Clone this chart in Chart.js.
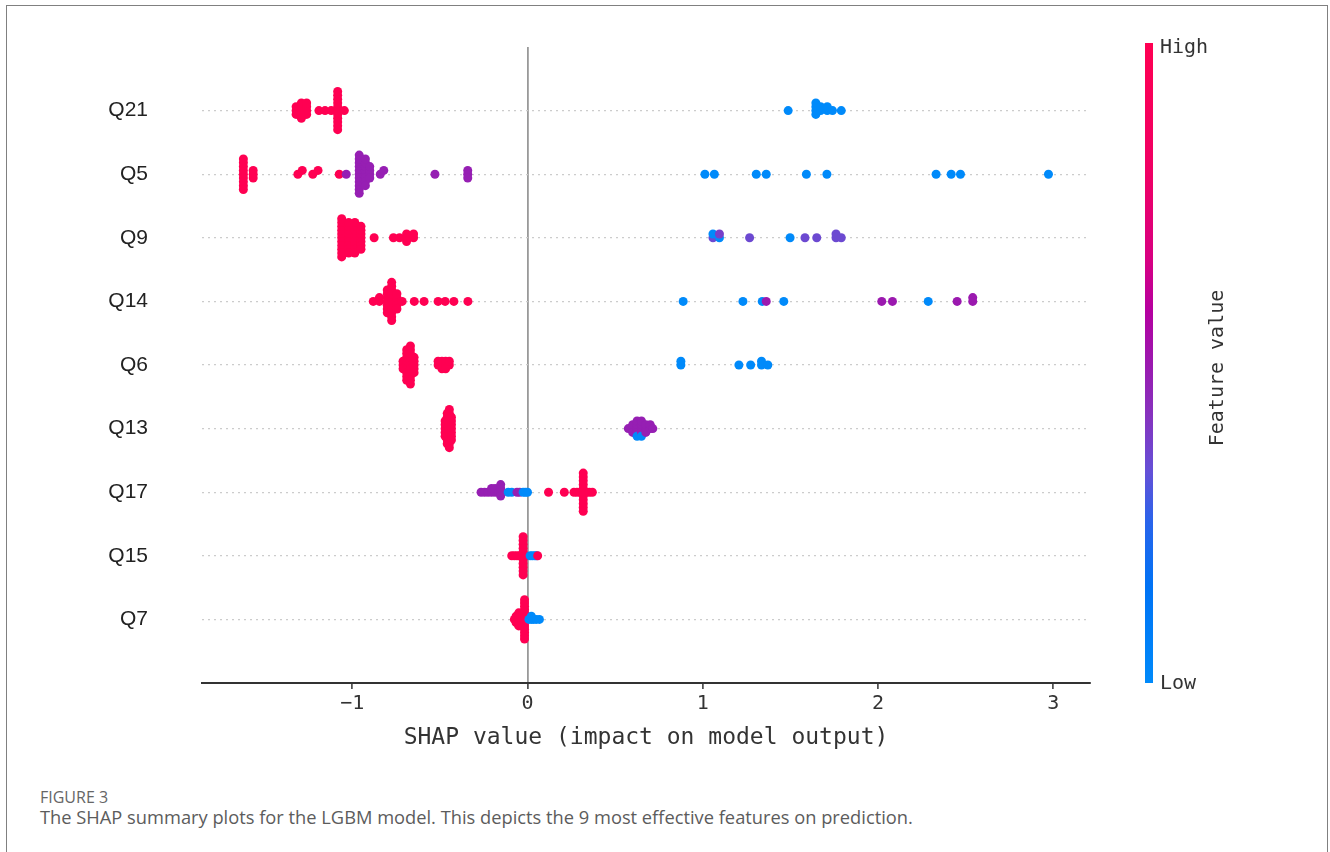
<!DOCTYPE html>
<html>
<head>
<meta charset="utf-8">
<script src="https://cdn.jsdelivr.net/npm/chart.js@4.4.1/dist/chart.umd.min.js"></script>
<style>
  html, body { margin: 0; padding: 0; background: #fff; width: 1330px; height: 852px; overflow: hidden; }
  #frame { position: absolute; left: 6px; top: 5px; width: 1322px; height: 900px; border: 1.5px solid #808080; box-sizing: border-box; }
  #wrap { position: absolute; left: 0; top: 0; width: 1330px; height: 770px; }
  #fig { position: absolute; left: 40px; top: 786px; font: 16px 'Open Sans', sans-serif; color: #666; white-space: nowrap; }
  #cap { position: absolute; left: 40px; top: 804px; font: 18.3px 'Open Sans', sans-serif; color: #5c5c5c; white-space: nowrap; }
</style>
</head>
<body>
<div id="frame"></div>
<div id="wrap"><canvas id="c" width="1330" height="770"></canvas></div>
<div id="fig">FIGURE 3</div>
<div id="cap">The SHAP summary plots for the LGBM model. This depicts the 9 most effective features on prediction.</div>
<script>
// ---------------- data ----------------
const features = ['Q21', 'Q5', 'Q9', 'Q14', 'Q6', 'Q13', 'Q17', 'Q15', 'Q7'];
const xTicks = [-1, 0, 1, 2, 3];
const xTitle = 'SHAP value (impact on model output)';
const colorbarLabels = ['High', 'Low', 'Feature value'];

// each entry: [SHAP value, normalised feature value (0 = low, 1 = high), number of samples]
const q21 = [
  [-1.32, 1, 3], [-1.29, 1, 5], [-1.26, 1, 4],
  [-1.19, 1, 1], [-1.155, 1, 1], [-1.12, 1, 1],
  [-1.083, 1, 11], [-1.045, 1, 1],
  [1.487, 0, 1], [1.645, 0, 4], [1.672, 0, 2], [1.71, 0, 2], [1.74, 0, 1], [1.79, 0, 1]
];
const q5 = [
  [-1.621, 1, 9], [-1.565, 1, 3],
  [-1.31, 1, 1], [-1.285, 1, 1], [-1.225, 1, 1], [-1.195, 1, 1],
  [-1.074, 1, 1], [-1.034, 0.48, 1],
  [-0.96, 0.48, 11], [-0.925, 0.48, 8], [-0.90, 0.48, 4],
  [-0.84, 0.48, 1], [-0.82, 0.48, 1], [-0.528, 0.48, 1], [-0.341, 0.48, 3],
  [1.012, 0, 1], [1.066, 0, 1], [1.305, 0, 1], [1.362, 0, 1], [1.591, 0, 1],
  [1.708, 0, 1], [2.331, 0, 1], [2.417, 0, 1], [2.470, 0, 1], [2.972, 0, 1]
];
const q9 = [
  [-1.06, 1, 11], [-1.02, 1, 9], [-0.985, 1, 9], [-0.95, 1, 7],
  [-0.875, 1, 1], [-0.765, 1, 1], [-0.73, 1, 1], [-0.69, 1, 3], [-0.65, 1, 2],
  [1.058, 0.35, 1], [1.058, 0, 1], [1.095, 0, 1], [1.095, 0.38, 1],
  [1.267, 0.35, 1], [1.498, 0, 1], [1.583, 0.35, 1], [1.65, 0.35, 1],
  [1.76, 0.35, 2], [1.79, 0.35, 1]
];
const q14 = [
  [-0.88, 1, 1], [-0.845, 1, 2], [-0.80, 1, 7], [-0.775, 1, 11], [-0.745, 1, 5], [-0.715, 1, 1],
  [-0.646, 1, 1], [-0.59, 1, 1], [-0.51, 1, 1], [-0.47, 1, 1], [-0.42, 1, 1], [-0.34, 1, 1],
  [0.888, 0, 1], [1.229, 0, 1], [1.339, 0, 1], [1.362, 0.5, 1], [1.462, 0, 1],
  [2.021, 0.5, 1], [2.082, 0.5, 1], [2.286, 0, 1], [2.451, 0.5, 1], [2.54, 0.5, 2]
];
const q6 = [
  [-0.71, 1, 3], [-0.689, 1, 9], [-0.668, 1, 11], [-0.647, 1, 5],
  [-0.51, 1, 2], [-0.488, 1, 3], [-0.467, 1, 3], [-0.446, 1, 2],
  [0.875, 0, 2], [1.206, 0, 1], [1.273, 0, 1], [1.335, 0, 2], [1.371, 0, 1]
];
const q13 = [
  [-0.47, 1, 5], [-0.458, 1, 9], [-0.446, 1, 11], [-0.434, 1, 7],
  [0.575, 0.48, 1], [0.60, 0.48, 3], [0.625, 0.48, 4], [0.625, 0, 1],
  [0.65, 0.48, 4], [0.65, 0, 1], [0.675, 0.48, 3], [0.70, 0.48, 2], [0.715, 0.48, 1]
];
const q17 = [
  [-0.265, 0.48, 1], [-0.245, 0.48, 1], [-0.225, 0.48, 1], [-0.205, 0.48, 2],
  [-0.185, 0.48, 2], [-0.165, 0.48, 1], [-0.153, 0.48, 4],
  [-0.11, 0, 1], [-0.09, 0, 1], [-0.06, 0.48, 1], [-0.045, 0.48, 1],
  [-0.025, 0, 1], [-0.012, 0, 1], [0.0, 0, 1],
  [0.12, 1, 1], [0.21, 1, 1], [0.265, 1, 1], [0.282, 1, 1], [0.30, 1, 1],
  [0.318, 1, 11], [0.336, 1, 1], [0.353, 1, 1], [0.37, 1, 1]
];
const q15 = [
  [-0.09, 1, 1], [-0.075, 1, 1], [-0.06, 1, 1], [-0.045, 1, 1],
  [-0.025, 1, 11], [-0.012, 1, 1],
  [0.015, 0, 1], [0.028, 0, 1], [0.042, 0, 1], [0.052, 0, 1], [0.058, 1, 1]
];
const q7 = [
  [-0.075, 1, 1], [-0.065, 1, 3], [-0.05, 1, 5], [-0.017, 1, 13],
  [0.008, 0, 1], [0.022, 0, 2], [0.035, 0, 1], [0.05, 0, 1], [0.068, 0, 1]
];
const rows = [q21, q5, q9, q14, q6, q13, q17, q15, q7];

// ---------------- colour map (SHAP red_blue) ----------------
const CMAP = [
  [0.00, [0, 138, 250]], [0.15, [0, 115, 245]], [0.25, [40, 100, 235]],
  [0.33, [100, 80, 215]], [0.42, [135, 50, 190]], [0.50, [155, 25, 175]],
  [0.58, [180, 0, 160]], [0.66, [215, 0, 130]], [0.80, [240, 0, 100]], [1.00, [255, 0, 82]]
];
function cmap(t) {
  for (let i = 1; i < CMAP.length; i++) {
    if (t <= CMAP[i][0]) {
      const [t0, c0] = CMAP[i - 1], [t1, c1] = CMAP[i];
      const f = (t - t0) / (t1 - t0);
      const c = c0.map((v, k) => Math.round(v + (c1[k] - v) * f));
      return `rgb(${c[0]},${c[1]},${c[2]})`;
    }
  }
  const c = CMAP[CMAP.length - 1][1];
  return `rgb(${c[0]},${c[1]},${c[2]})`;
}

// ---------------- beeswarm layout (same rule as shap) ----------------
function expand(groups) {
  const pts = [];
  groups.forEach(([s, f, n]) => { for (let i = 0; i < n; i++) pts.push({ s, f }); });
  return pts;
}
function swarm(shaps) {
  const nbins = 100, rowHeight = 0.4;
  const mn = Math.min(...shaps), mx = Math.max(...shaps);
  const quant = shaps.map(v => Math.round(nbins * (v - mn) / (mx - mn + 1e-8)));
  const inds = shaps.map((_, i) => i).sort((a, b) => (quant[a] - quant[b]) || (a - b));
  const ys = new Array(shaps.length).fill(0);
  let layer = 0, last = -1;
  for (const ind of inds) {
    if (quant[ind] !== last) layer = 0;
    ys[ind] = Math.ceil(layer / 2) * ((layer % 2) * 2 - 1);
    layer++;
    last = quant[ind];
  }
  const m = Math.max(...ys.map(y => y + 1));
  return ys.map(y => y * 0.9 * (rowHeight / m));
}

const datasets = rows.map((groups, i) => {
  const pts = expand(groups);
  const offs = swarm(pts.map(p => p.s));
  const pos = features.length - 1 - i;
  return {
    label: features[i],
    data: pts.map((p, k) => ({ x: p.s, y: pos + offs[k] })),
    pointBackgroundColor: pts.map(p => cmap(p.f)),
    pointRadius: 4.5,
    pointHoverRadius: 4.5,
    pointBorderWidth: 0
  };
});

// ---------------- colour bar ----------------
const colorbarPlugin = {
  id: 'colorbar',
  afterDraw(chart) {
    const { ctx, chartArea: a } = chart;
    const x = a.right + 55, w = 8, top = a.top - 4, bot = a.bottom;
    const g = ctx.createLinearGradient(0, bot, 0, top);
    CMAP.forEach(([t, c]) => g.addColorStop(t, `rgb(${c[0]},${c[1]},${c[2]})`));
    ctx.save();
    ctx.fillStyle = g;
    ctx.fillRect(x, top, w, bot - top);
    ctx.fillStyle = '#333';
    ctx.font = '20px "DejaVu Sans Mono"';
    ctx.textBaseline = 'middle';
    ctx.textAlign = 'left';
    ctx.fillText(colorbarLabels[0], x + 15, top + 5);
    ctx.fillText(colorbarLabels[1], x + 15, bot + 1);
    ctx.translate(x + 73, (top + bot) / 2 + 5);
    ctx.rotate(-Math.PI / 2);
    ctx.textAlign = 'center';
    ctx.fillText(colorbarLabels[2], 0, 0);
    ctx.restore();
  }
};

new Chart(document.getElementById('c'), {
  type: 'scatter',
  data: { datasets },
  plugins: [colorbarPlugin],
  options: {
    responsive: false,
    animation: false,
    events: [],
    layout: { padding: { left: 0, right: 240, top: 47, bottom: 7 } },
    plugins: { legend: { display: false }, tooltip: { enabled: false } },
    scales: {
      x: {
        type: 'linear',
        min: -1.857,
        max: 3.209,
        afterBuildTicks: s => { s.ticks = xTicks.map(v => ({ value: v })); },
        afterFit: s => { s.height = 80; },
        ticks: {
          color: '#333',
          padding: 3,
          font: { family: 'DejaVu Sans Mono', size: 20 },
          callback: v => (v < 0 ? '\u2212' + Math.abs(v) : String(v))
        },
        grid: {
          color: c => (c.tick && c.tick.value === 0 ? '#999999' : 'rgba(0,0,0,0)'),
          lineWidth: 1.8,
          drawTicks: true,
          tickLength: 6,
          tickColor: '#333',
          tickWidth: 1.5
        },
        border: { display: true, color: '#333', width: 2 },
        title: {
          display: true,
          text: xTitle,
          color: '#333',
          font: { family: 'DejaVu Sans Mono', size: 23 },
          padding: { top: 4, bottom: 11 }
        }
      },
      y: {
        type: 'linear',
        min: -1,
        max: 9,
        afterBuildTicks: s => { s.ticks = features.map((_, i) => ({ value: i })); },
        afterFit: s => { s.width = 202; },
        ticks: {
          color: '#222',
          padding: 0,
          font: { family: 'Liberation Sans', size: 21 },
          callback: v => features[features.length - 1 - v]
        },
        grid: {
          color: '#cccccc',
          lineWidth: 1.2,
          drawTicks: true,
          tickLength: 54,
          tickColor: 'rgba(0,0,0,0)'
        },
        border: { display: false, dash: [2, 4] }
      }
    }
  }
});
</script>
</body>
</html>
